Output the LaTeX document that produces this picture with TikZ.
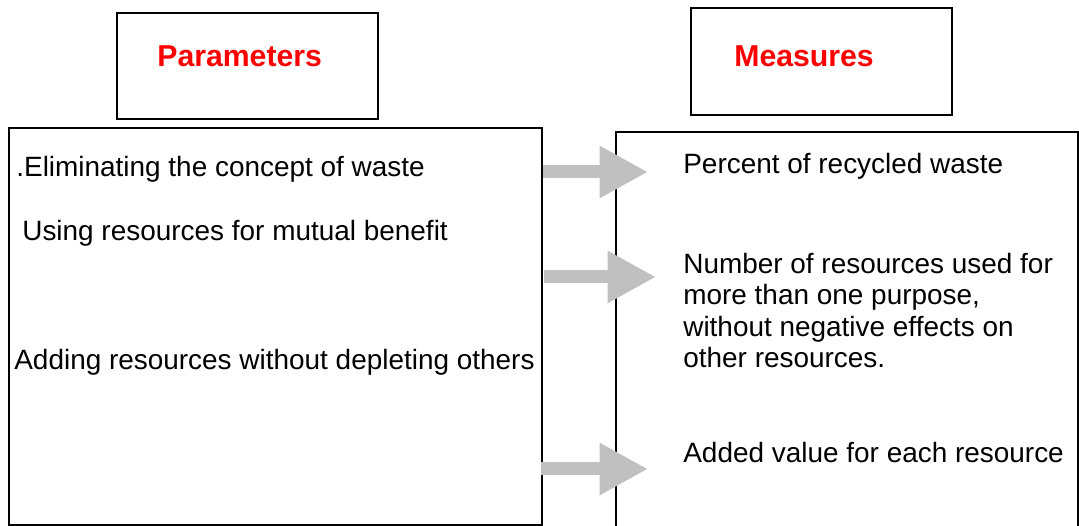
\documentclass[tikz,border=0pt]{standalone}
\usepackage{fontspec}
\setmainfont{Liberation Sans}
\usetikzlibrary{arrows.meta,positioning}
\definecolor{pmInk}{HTML}{000000}
\definecolor{pmRed}{HTML}{FF0000}
\definecolor{pmGrey}{HTML}{C0C0C0}
\tikzset{
    x=0.02cm, y=-0.02cm,
    panel/.style={draw=pmInk, line width=1pt, anchor=north west, inner sep=0pt},
    headbox/.style={panel, minimum width=5.22cm, minimum height=2.12cm},
    headtext/.style={anchor=base west, inner sep=0pt, text=pmRed, font=\fontsize{17.2}{20}\selectfont\bfseries},
    item/.style={anchor=base west, inner sep=0pt, text=pmInk, align=left, font=\fontsize{15.9}{18}\selectfont},
    flowarrow/.style={line width=0.26cm, draw=pmGrey, -{Triangle[length=0.97cm, width=0.98cm]}}
}

\begin{document}
\begin{tikzpicture}
\useasboundingbox (0,0) rectangle (1079,526);

% title boxes
\node[headbox] (parbox) at (116,12) {};
\node[headtext] (partitle) at (157,67) {Parameters};
\node[headbox, minimum height=2.14cm] (measbox) at (690,7) {};
\node[headtext] (meastitle) at (734,67) {Measures};

% the two columns
\node[panel, minimum width=10.66cm, minimum height=7.94cm] (parpanel) at (8,127) {};
\node[panel, minimum width=9.24cm, minimum height=8.4cm] (measpanel) at (615,131) {};

% parameters
\node[item] (p1) at (16,177) {.Eliminating the concept of waste};
\node[item] (p2) at (22,241) {Using resources for mutual benefit};
\node[item] (p3) at (14,370) {Adding resources without depleting others};

% measures (base of a multi-line node is its last line)
\node[item] (m1) at (683,174) {Percent of recycled waste};
\node[item] (m2) at (683,368) {Number of resources used for\\more than one purpose,\\without negative effects on\\other resources.};
\node[item] (m3) at (683,463) {Added value for each resource};

% arrows between the columns
\coordinate (a1) at (543,172);
\coordinate (b1) at (648,172);
\coordinate (a2) at (544,277);
\coordinate (b2) at (656,277);
\coordinate (a3) at (541,469);
\coordinate (b3) at (648,469);
\draw[flowarrow] (a1) -- (b1);
\draw[flowarrow] (a2) -- (b2);
\draw[flowarrow] (a3) -- (b3);
\end{tikzpicture}
\end{document}
